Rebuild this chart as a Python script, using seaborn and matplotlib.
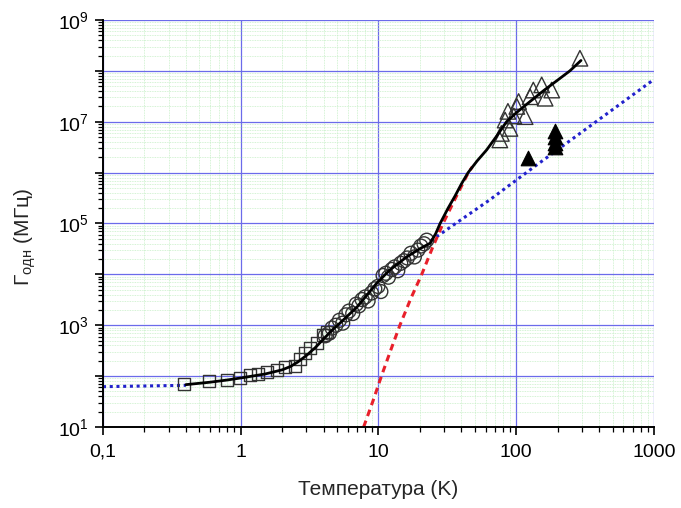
import numpy as np
import pandas as pd
import matplotlib
matplotlib.use("Agg")
import matplotlib.pyplot as plt
import matplotlib.ticker as mticker
import seaborn as sns

# ---------------- data ----------------
sq_T = [0.39, 0.59, 0.79, 0.99, 1.17, 1.34, 1.54, 1.82, 2.09, 2.48, 2.69, 2.93, 3.18, 3.56, 3.98, 4.2]
sq_G = [70, 80, 85, 93, 104, 110, 118, 130, 148, 160, 215, 280, 355, 440, 640, 750]

circ_T = [4.1, 4.4, 4.6, 4.9, 5.2, 5.5, 5.8, 6.1, 6.5, 6.9, 7.2, 7.6, 8.0, 8.4, 8.9, 9.4, 9.9,
          10.4, 10.8, 11.3, 11.8, 12.5, 13.1, 13.8, 14.5, 15.3, 16.2, 17.2, 18.2, 19.3, 20.3, 21.4, 22.4]
circ_G = [620, 700, 880, 1000, 1250, 1100, 1600, 1900, 1700, 2600, 2400, 3200, 3600, 3000, 4300, 5200, 5800,
          4600, 9500, 10500, 8800, 12500, 14000, 11800, 16500, 18500, 21000, 26000, 22000, 30000, 36000, 40000, 47000]

tri_T = [76, 78, 83, 87, 90, 96, 101, 104, 116, 126, 133, 153, 162, 181, 290]
tri_G = [4.4e6, 5.9e6, 1.08e7, 1.6e7, 7.4e6, 1.3e7, 2.0e7, 2.5e7, 1.26e7, 3.1e7, 4.2e7, 5.3e7, 2.9e7, 4.2e7, 1.77e8]

fil_T = [122, 192, 192, 192, 192]
fil_G = [1.9e6, 3.2e6, 3.9e6, 5.0e6, 6.6e6]

fit_T = [0.4, 0.6, 0.8, 1.0, 1.5, 2.0, 2.3, 2.6, 3.0, 3.5, 4.0, 4.6, 5.25, 7.0, 9.7, 12.0, 16.0, 20.0,
         23.7, 26.0, 28.0, 32.0, 36.0, 40.0, 44.7, 52.0, 61.0, 72.0, 85.0, 100.0, 126.0, 160.0, 200.0,
         245.0, 295.0]
fit_G = [68, 76, 84, 92, 110, 133, 155, 190, 255, 370, 540, 800, 1100, 2300, 6700, 12000, 22000, 32000,
         41000, 6.3e4, 1.0e5, 2.0e5, 3.5e5, 6.0e5, 1.0e6, 1.7e6, 2.8e6, 5.2e6, 1.0e7, 1.5e7, 2.5e7, 4.2e7,
         6.6e7, 1.0e8, 1.6e8]

red_T = [7.8, 9.1, 10.5, 12.3, 14.3, 17.2, 20.6, 24.5, 29.4, 36.5, 44.9, 48.0]
red_G = [10, 32, 100, 330, 1000, 3400, 1.0e4, 3.2e4, 1.0e5, 3.3e5, 1.0e6, 1.3e6]

blue_lo_T = [0.1, 0.4]
blue_lo_G = [62, 66]
blue_hi_T = [24.0, 64.0, 140.0, 1000.0]
blue_hi_G = [4.6e4, 2.9e5, 1.4e6, 6.8e7]

x_ticks = [0.1, 1, 10, 100, 1000]
x_ticklabels = ["0,1", "1", "10", "100", "1000"]

# ---------------- style ----------------
sns.set_style("white")
plt.rcParams["font.family"] = ["Liberation Sans", "DejaVu Sans"]
plt.rcParams["mathtext.fontset"] = "custom"
plt.rcParams["mathtext.rm"] = "Liberation Sans"
plt.rcParams["mathtext.it"] = "Liberation Sans"
plt.rcParams["mathtext.default"] = "regular"

fig = plt.figure(figsize=(6.81, 5.08), dpi=100)
ax = fig.add_axes([103 / 681, (508 - 427) / 508, (654 - 103) / 681, (427 - 20) / 508])
ax.set_xscale("log")
ax.set_yscale("log")

# lines
sns.lineplot(x=blue_lo_T, y=blue_lo_G, ax=ax, color="#2222cc", linestyle=(0, (1, 1.2)), linewidth=2.2,
             sort=False, estimator=None, zorder=2)
sns.lineplot(x=blue_hi_T, y=blue_hi_G, ax=ax, color="#2222cc", linestyle=(0, (1, 1.2)), linewidth=2.2,
             sort=False, estimator=None, zorder=2)
sns.lineplot(x=red_T, y=red_G, ax=ax, color="#e8202a", linestyle=(0, (2.2, 1.6)), linewidth=2.2,
             sort=False, estimator=None, zorder=2)

# markers
mk = dict(facecolor="none", edgecolor="#333333", linewidth=1.0, zorder=3)
sns.scatterplot(x=sq_T, y=sq_G, ax=ax, marker="s", s=75, **mk)
sns.scatterplot(x=circ_T, y=circ_G, ax=ax, marker="o", s=100, **mk)
sns.scatterplot(x=tri_T, y=tri_G, ax=ax, marker="^", s=125, **mk)
sns.scatterplot(x=fil_T, y=fil_G, ax=ax, marker="^", s=110, color="black", edgecolor="black", zorder=4)

# fit line
sns.lineplot(x=fit_T, y=fit_G, ax=ax, color="black", linewidth=2.0, sort=False, estimator=None, zorder=5)

# axes
ax.set_xlim(0.1, 1000)
ax.set_ylim(10, 1e9)
ax.set_xticks(x_ticks)
ax.set_xticklabels(x_ticklabels)
ax.xaxis.set_minor_locator(mticker.LogLocator(base=10, subs=np.arange(2, 10), numticks=20))
ax.xaxis.set_minor_formatter(mticker.NullFormatter())
ax.yaxis.set_major_locator(mticker.LogLocator(base=10, numticks=20))
ax.yaxis.set_minor_locator(mticker.LogLocator(base=10, subs=np.arange(2, 10), numticks=20))
ax.yaxis.set_minor_formatter(mticker.NullFormatter())


def yfmt(v, pos):
    e = int(round(np.log10(v)))
    if e % 2 == 1:
        return r"$10^{%d}$" % e
    return ""


ax.yaxis.set_major_formatter(mticker.FuncFormatter(yfmt))

ax.grid(True, which="major", color="#6b6bea", linewidth=0.9)
ax.grid(True, which="minor", color="#c6efc6", linewidth=0.6, linestyle=(0, (1, 1)))
ax.set_axisbelow(True)

for s in ["top", "right"]:
    ax.spines[s].set_visible(False)
for s in ["left", "bottom"]:
    ax.spines[s].set_color("black")
    ax.spines[s].set_linewidth(1.4)

ax.tick_params(which="major", direction="out", length=6, width=1.2, colors="black", labelsize=14, pad=4)
ax.tick_params(which="minor", direction="out", length=3.5, width=0.9, colors="black")
ax.tick_params(axis="x", which="major", pad=6)
ax.tick_params(left=True, bottom=True, which="both")

ax.set_xlabel("Температура (K)", fontsize=15, labelpad=14)
ax.set_ylabel(r"$\Gamma_{одн}$ (МГц)", fontsize=15)
ax.yaxis.set_label_coords(-0.118, 0.467)

fig.savefig("out.png", dpi=100)
